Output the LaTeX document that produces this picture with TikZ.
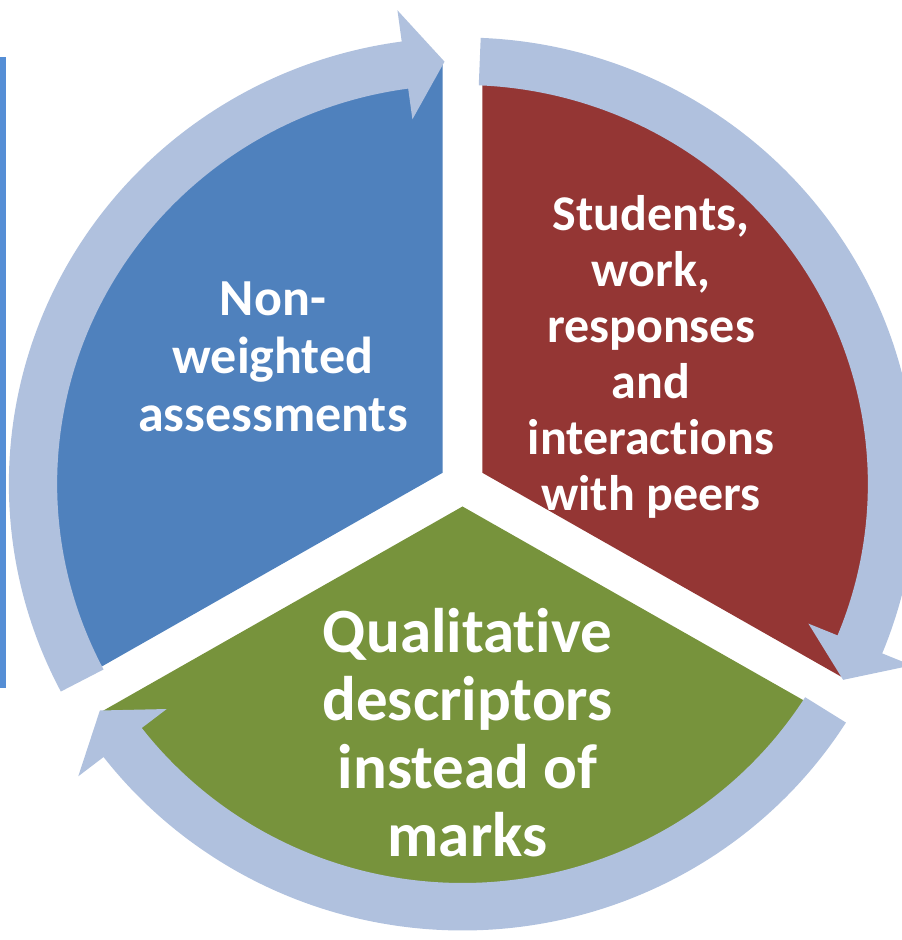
\documentclass[tikz,border=0pt]{standalone}
\usepackage{fontspec}
\setmainfont{Carlito}[Ligatures=NoCommon, RawFeature={-liga;-clig;-calt;-dlig}]
\definecolor{segblue}{HTML}{4F81BD}
\definecolor{segred}{HTML}{943634}
\definecolor{seggreen}{HTML}{77933C}
\definecolor{ringblue}{HTML}{B0C1DE}
\definecolor{edgeblue}{HTML}{558ED5}

\begin{document}
\begin{tikzpicture}[x=1pt, y=1pt,
    segtext/.style={text=white, align=center, inner sep=0pt},
    ]
    \useasboundingbox (0,0) rectangle (902,940);
    \fill[edgeblue] (0,252) rectangle (6,883);

    \begin{scope}[shift={(462.5,456)}, xscale=1.016]
    \fill[segblue] (150:22.5pt) -- ++(90:410pt) arc[start angle=90, end angle=210, radius=410pt] -- cycle;
    \fill[segred] (30:22.5pt) -- ++(90:410pt) arc[start angle=90, end angle=-30, radius=410pt] -- cycle;
    \fill[seggreen] (270:22.5pt) -- ++(-30:410pt) arc[start angle=-30, end angle=-150, radius=410pt] -- cycle;
    \foreach \t in {207.7, 87.7, -32.3} {
        \fill[ringblue] (\t:399pt) -- (\t:446.5pt)
            arc[start angle=\t, end angle=\t-110, radius=446.5pt]
            -- ({\t-110}:478pt) -- ({\t-115.3}:422.75pt) -- ({\t-110}:368pt) -- ({\t-110}:399pt)
            arc[start angle=\t-110, end angle=\t, radius=399pt] -- cycle;
    }
    \end{scope}

    \node[segtext, font=\bfseries\fontsize{52}{58}\selectfont] (nonweighted) at (273,583) {Non-\\weighted\\assessments};
    \node[segtext, font=\bfseries\fontsize{50}{56}\selectfont] (students) at (651,583) {Students,\\work,\\responses\\and\\interactions\\with peers};
    \node[segtext, font=\bfseries\fontsize{63}{68}\selectfont] (qualitative) at (467.5,207) {Qualitative\\descriptors\\instead of\\marks};
\end{tikzpicture}
\end{document}
